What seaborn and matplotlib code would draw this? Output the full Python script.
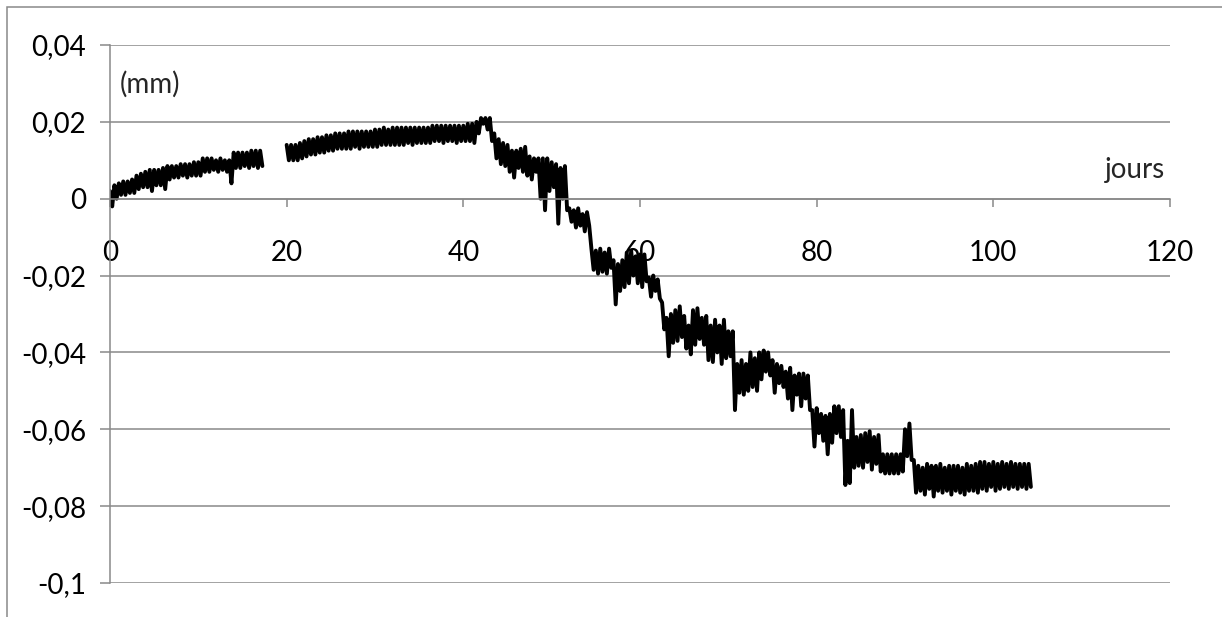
import matplotlib
matplotlib.use("Agg")
import matplotlib.pyplot as plt
import numpy as np
import pandas as pd
import seaborn as sns
from matplotlib.patches import Rectangle

# displacement, in micrometres (x 1e-3 mm)
# one sample every half day: upper value at the day, lower value a quarter day later
start_a = 0.0
hi_a = [2, 3.5, 4, 4.5, 4.5, 5, 6, 6.5, 7, 7.5,
        7.5, 7.5, 8, 8.5, 8.5, 8.5, 9, 9, 9, 9.5,
        9.5, 10.5, 10.5, 10.5, 10, 10.5, 10, 10, 12, 12,
        12, 12, 12.5, 12.5, 12.5]
lo_a = [-2, 0, 1, 1, 1.5, 1.5, 2.5, 3, 3, 2,
        3.5, 3.5, 2.5, 5, 5.5, 5.5, 6, 5.5, 6, 6,
        6, 7, 7, 7.5, 7, 7.5, 7, 4, 8, 8,
        8.5, 8, 8.5, 8, 8.5]

start_b = 20.0
hi_b = [14, 14, 14, 14.5, 15, 15.5, 15.5, 16, 16, 16.5,
        16.5, 17, 17, 17, 17.5, 17.5, 17.5, 17.5, 17.5, 17.5,
        18, 18, 18.5, 18, 18.5, 18.5, 18.5, 18.5, 18.5, 18.5,
        18.5, 18.5, 18.5, 19, 19, 19, 19, 19, 19, 19,
        19, 19.5, 19.5, 20, 21, 21, 21, 17, 15.5, 14.5,
        14, 12.5, 12.5, 13, 13.5, 11, 10.5, 10.5, 10.5, 10.5,
        9.5, 9, 8, 8.5, -2.5, -3, -2.5, -4, -3.5, -13,
        -13.5, -13, -14, -13, -16, -17, -16, -14, -13.5, -15,
        -14.5, -14.5, -20.5, -20, -21, -27, -31, -30, -29, -28,
        -30.5, -33, -29, -28.5, -31, -30.5, -33, -31.5, -33, -31.5,
        -34.5, -34.5, -43, -42, -43, -40, -41.5, -40, -39.5, -40,
        -42, -43, -43.5, -45, -44, -46, -45.5, -45.5, -46, -55,
        -54.5, -56, -56.5, -56, -54, -54, -55, -63, -55, -62,
        -61.5, -61, -60.5, -62, -61.5, -66.5, -66.5, -66.5, -66.5, -66.5,
        -60, -58.5, -68, -69.5, -70, -69, -69.5, -69.5, -69, -70,
        -69.5, -69.5, -69.5, -70, -69, -69.5, -69, -68.5, -68.5, -69,
        -68.5, -69, -68.5, -69, -68.5, -69, -69, -69, -69]
lo_b = [10, 10, 10, 10.5, 11, 11.5, 11.5, 12, 12, 12.5,
        12.5, 13, 13, 13, 13, 13.5, 13, 13.5, 13.5, 13.5,
        13.5, 14, 14, 14, 14, 14, 14, 14.5, 14, 14.5,
        14.5, 14.5, 14.5, 15, 15, 14.5, 15, 15, 14.5, 15,
        15, 15, 14.5, 17, 19.5, 18, 15, 10.5, 9, 8.5,
        7, 5.5, 8, 7, 6, 5, 7, 0, -3, 2,
        3, -6.5, 0, -3, -6, -7.5, -7, -8.5, -7, -18.5,
        -19.5, -19, -19.5, -18, -27.5, -24, -23, -22, -20, -22,
        -23, -21.5, -25.5, -24, -26, -34, -41, -37.5, -37, -36,
        -39, -40.5, -38, -36.5, -38, -42, -42.5, -40, -43, -41.5,
        -41, -55, -50.5, -51, -50, -49, -50, -47, -45, -46,
        -50.5, -48, -49, -52, -55, -51, -54, -52, -55, -64.5,
        -61, -63, -66.5, -63.5, -61, -62, -74.5, -74, -70, -69.5,
        -70, -68.5, -70.5, -69, -71, -71.5, -71.5, -71.5, -71.5, -71,
        -67, -68, -76.5, -76, -77, -75.5, -77.5, -76, -76.5, -76,
        -77, -76, -76.5, -77, -76, -76, -76.5, -75.5, -76, -75,
        -76, -75.5, -75, -75.5, -75, -75.5, -75, -75.5, -75]

y_ticks = [0.04, 0.02, 0, -0.02, -0.04, -0.06, -0.08, -0.1]
y_labels = ["0,04", "0,02", "0", "-0,02", "-0,04", "-0,06", "-0,08", "-0,1"]
x_ticks = [0, 20, 40, 60, 80, 100, 120]
x_labels = ["0", "20", "40", "60", "80", "100", "120"]

GRAY = "#898989"
FS = 20


def segment(start, hi, lo, name):
    days = start + 0.5 * np.arange(len(hi))
    x = np.empty(2 * len(hi))
    y = np.empty(2 * len(hi))
    x[0::2], x[1::2] = days, days + 0.25
    y[0::2], y[1::2] = hi, lo
    return pd.DataFrame({"jours": x, "mm": y / 1000.0, "seg": name})


df = pd.concat([segment(start_a, hi_a, lo_a, "a"),
                segment(start_b, hi_b, lo_b, "b")], ignore_index=True)

sns.set_theme(style="white")
plt.rcParams["font.family"] = ["Lato", "DejaVu Sans"]

fig = plt.figure(figsize=(12.22, 6.17), dpi=100)
ax = fig.add_axes([110 / 1222, 34 / 617, 1060 / 1222, 538 / 617])

sns.lineplot(data=df, x="jours", y="mm", units="seg", estimator=None,
             sort=False, color="black", linewidth=2.8, ax=ax)

ax.set_xlim(0, 120)
ax.set_ylim(-0.1, 0.04)
ax.set_xticks(x_ticks, x_labels)
ax.set_yticks(y_ticks, y_labels)
ax.set_xlabel("")
ax.set_ylabel("")

ax.yaxis.grid(True, color=GRAY, linewidth=1.1)
ax.xaxis.grid(False)
ax.set_axisbelow(True)

for side in ("top", "right"):
    ax.spines[side].set_visible(False)
ax.spines["bottom"].set_position(("data", 0))
for side in ("left", "bottom"):
    ax.spines[side].set_color(GRAY)
    ax.spines[side].set_linewidth(1.1)

ax.tick_params(axis="x", direction="out", length=6, width=1.1, color=GRAY,
               pad=24, labelsize=FS, labelcolor="black", bottom=True)
ax.tick_params(axis="y", direction="out", length=7.2, width=1.1, color=GRAY,
               pad=10, labelsize=FS, labelcolor="black", left=True)

ax.text(0.0094, 0.911, "(mm)", transform=ax.transAxes, fontsize=FS,
        ha="left", va="baseline")
ax.text(0.995, 0.753, "jours", transform=ax.transAxes, fontsize=FS,
        ha="right", va="baseline")

# chart frame (only top and left edges fall inside the picture)
fig.patches.append(Rectangle((7 / 1222, -0.1), 1.2, 1.1 - 7 / 617,
                             transform=fig.transFigure, fill=False,
                             edgecolor=GRAY, linewidth=1.1))

plt.savefig("out.png", dpi=100)
plt.close()
